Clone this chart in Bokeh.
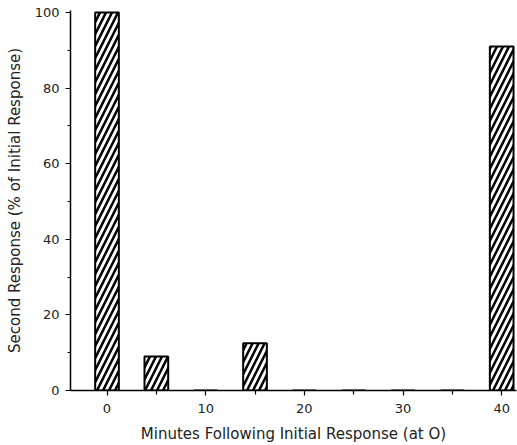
from bokeh.plotting import figure
from bokeh.models import ColumnDataSource, FixedTicker, Range1d
from bokeh.embed import file_html
from bokeh.resources import INLINE

# Data
minutes = [0, 5, 10, 15, 20, 25, 30, 35, 40]
second_response = [100, 9, 0, 12.5, 0, 0, 0, 0, 91]
x_ticks = [0, 10, 20, 30, 40]
x_minor = [5, 15, 25, 35]
y_ticks = [0, 20, 40, 60, 80, 100]
y_minor = [10, 30, 50, 70, 90]

FONT = "DejaVu Sans"

p = figure(width=517, height=445, output_backend="svg", toolbar_location=None,
           x_range=Range1d(-3.7, 41.5), y_range=Range1d(0, 100.5),
           min_border_left=70, min_border_right=1, min_border_top=10, min_border_bottom=55)

src = ColumnDataSource(dict(x=minutes, top=second_response))
p.vbar(x="x", top="top", width=2.4, bottom=0, source=src,
       fill_color="white", line_color="black", line_width=2,
       hatch_pattern="/", hatch_color="black", hatch_weight=2.5, hatch_scale=12)

p.xgrid.visible = False
p.ygrid.visible = False
p.outline_line_color = None

for ax in (p.xaxis[0], p.yaxis[0]):
    ax.axis_line_width = 1.5
    ax.major_tick_line_width = 1.2
    ax.minor_tick_line_width = 1.2
    ax.major_label_text_font = FONT
    ax.major_label_text_font_size = "13px"
    ax.major_label_text_color = "#222222"
    ax.axis_label_text_font = FONT
    ax.axis_label_text_font_style = "normal"
    ax.axis_label_text_font_size = "15px"
    ax.axis_label_text_color = "#222222"
    ax.major_tick_in = 0
    ax.minor_tick_in = 0

p.xaxis[0].ticker = FixedTicker(ticks=x_ticks, minor_ticks=x_minor)
p.yaxis[0].ticker = FixedTicker(ticks=y_ticks, minor_ticks=y_minor)
p.xaxis[0].major_tick_out = 5
p.xaxis[0].minor_tick_out = 4
p.yaxis[0].major_tick_out = 5
p.yaxis[0].minor_tick_out = 3
p.xaxis[0].major_label_standoff = 8
p.yaxis[0].major_label_standoff = 6
p.xaxis[0].axis_label = "Minutes Following Initial Response (at O)"
p.yaxis[0].axis_label = "Second Response (% of Initial Response)"
p.xaxis[0].axis_label_standoff = 9
p.yaxis[0].axis_label_standoff = 8

open("out.html", "w").write(file_html(p, INLINE))
